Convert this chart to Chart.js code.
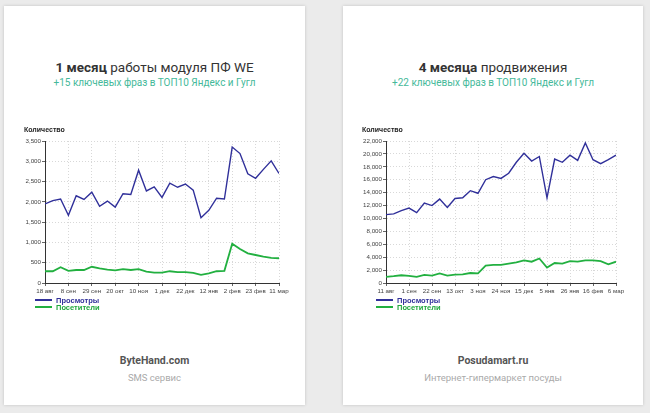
<!DOCTYPE html>
<html>
<head>
<meta charset="utf-8">
<script src="https://cdn.jsdelivr.net/npm/chart.js@4/dist/chart.umd.min.js"></script>
<style>
  body { margin: 0; background: #ebebeb; width: 650px; height: 413px; overflow: hidden; position: relative; font-family: Roboto, "Noto Sans", sans-serif; }
  .card { position: absolute; top: 6px; height: 399px; background: #fff; box-shadow: 0 0 3px rgba(0,0,0,0.18); }
  .t { position: absolute; left: 0; right: 0; text-align: center; white-space: nowrap; }
  .title { top: 52px; font-size: 13.5px; line-height: 18px; color: #333; }
  .title b { font-weight: 700; }
  .sub { top: 70px; font-size: 10px; line-height: 13px; color: #45b99a; }
  .name { top: 347px; font-size: 10.5px; line-height: 15px; color: #555; font-weight: 700; }
  .desc { top: 365px; font-size: 9.5px; line-height: 13px; color: #aaa; }
  canvas { position: absolute; }
  .leg { position: absolute; font-family: "Liberation Sans", Arial, sans-serif; font-size: 7.5px; font-weight: bold; line-height: 6.5px; }
  .leg div { position: relative; height: 6.5px; white-space: nowrap; }
  .leg span.ln { display: inline-block; width: 17px; height: 2px; vertical-align: middle; margin-right: 4px; position: relative; top: -1px; }
</style>
</head>
<body>
<div class="card" style="left:4px;width:301px;">
  <div class="t title"><b>1 месяц</b> работы модуля ПФ WE</div>
  <div class="t sub">+15 ключевых фраз в ТОП10 Яндекс и Гугл</div>
  <div class="t name">ByteHand.com</div>
  <div class="t desc">SMS сервис</div>
</div>
<div class="card" style="left:343px;width:300px;">
  <div class="t title"><b>4 месяца</b> продвижения</div>
  <div class="t sub">+22 ключевых фраз в ТОП10 Яндекс и Гугл</div>
  <div class="t name">Posudamart.ru</div>
  <div class="t desc">Интернет-гипермаркет посуды</div>
</div>

<canvas id="chart1" width="269" height="176" style="left:24px;top:124px;"></canvas>
<canvas id="chart2" width="268" height="176" style="left:362px;top:124px;"></canvas>

<div class="leg" style="left:35px;top:298px;">
  <div style="color:#30309a"><span class="ln" style="background:#30309a"></span>Просмотры</div>
  <div style="color:#1fa83c"><span class="ln" style="background:#22b040"></span>Посетители</div>
</div>
<div class="leg" style="left:376px;top:298px;">
  <div style="color:#30309a"><span class="ln" style="background:#30309a"></span>Просмотры</div>
  <div style="color:#1fa83c"><span class="ln" style="background:#22b040"></span>Посетители</div>
</div>

<script>
// Карточка 1: ByteHand.com (недельные точки, подпись каждые 3 недели)
const labels1 = ['18 авг', '8 сен', '29 сен', '20 окт', '10 ноя', '1 дек', '22 дек', '12 янв', '2 фев', '23 фев', '11 мар'];
const views1 = [1950, 2030, 2070, 1670, 2150, 2060, 2240, 1890, 2020, 1870, 2200, 2180, 2780, 2270, 2370, 2110,
                2460, 2360, 2440, 2290, 1610, 1790, 2090, 2070, 3350, 3190, 2690, 2580, 2800, 3010, 2700];
const visitors1 = [290, 290, 390, 300, 320, 320, 400, 360, 330, 310, 340, 320, 340, 280, 255, 255,
                   290, 270, 270, 250, 200, 240, 290, 300, 970, 840, 730, 690, 650, 620, 610];

// Карточка 2: Posudamart.ru
const labels2 = ['11 авг', '1 сен', '22 сен', '13 окт', '3 ноя', '24 ноя', '15 дек', '5 янв', '26 янв', '16 фев', '6 мар'];
const views2 = [10600, 10700, 11200, 11600, 10900, 12400, 12000, 13000, 11700, 13100, 13200, 14300, 13900, 16000, 16500, 16200,
                17000, 18700, 20100, 18900, 19600, 13200, 19200, 18700, 19800, 19000, 21700, 19100, 18500, 19100, 19800];
const visitors2 = [950, 1050, 1200, 1100, 950, 1250, 1150, 1500, 1150, 1300, 1350, 1550, 1500, 2700, 2800, 2800,
                   3000, 3200, 3500, 3300, 3800, 2400, 3100, 3000, 3400, 3300, 3500, 3500, 3400, 2900, 3300];

const tickFont = { family: 'Liberation Sans, Arial, sans-serif', size: 6.2 };

function makeChart(id, labels, views, visitors, yMax, yStep, yWidth) {
    const ctx = document.getElementById(id).getContext('2d');
    return new Chart(ctx, {
        type: 'line',
        data: {
            datasets: [{
                label: 'Просмотры',
                data: views.map((v, i) => ({ x: i, y: v })),
                borderColor: '#30309a',
                borderWidth: 1.4,
                pointRadius: 0,
                tension: 0
            }, {
                label: 'Посетители',
                data: visitors.map((v, i) => ({ x: i, y: v })),
                borderColor: '#22b040',
                borderWidth: 1.8,
                pointRadius: 0,
                tension: 0
            }]
        },
        options: {
            responsive: false,
            animation: false,
            layout: { padding: { left: 0, right: 14, top: 0, bottom: 0 } },
            plugins: {
                legend: { display: false },
                tooltip: { enabled: false },
                title: {
                    display: true,
                    text: 'Количество',
                    align: 'start',
                    color: '#222',
                    font: { family: 'Liberation Sans, Arial, sans-serif', size: 7, weight: 'bold' },
                    padding: { top: 2, bottom: 6.6 }
                }
            },
            scales: {
                x: {
                    type: 'linear',
                    min: 0,
                    max: views.length - 1,
                    afterFit: s => { s.height = 17; },
                    ticks: {
                        stepSize: 3,
                        autoSkip: false,
                        maxRotation: 0,
                        padding: 2,
                        color: '#444',
                        font: tickFont,
                        callback: v => labels[v / 3]
                    },
                    grid: { color: '#d8d8d8', tickColor: '#666', tickLength: 3 },
                    border: { color: '#333', width: 1, dash: [1, 2] }
                },
                y: {
                    min: 0,
                    max: yMax,
                    afterFit: s => { s.width = yWidth; },
                    ticks: {
                        stepSize: yStep,
                        padding: 1,
                        color: '#444',
                        font: tickFont,
                        callback: v => v.toLocaleString('en-US')
                    },
                    grid: { color: '#d8d8d8', tickColor: '#666', tickLength: 3 },
                    border: { color: '#333', width: 1, dash: [1, 2] }
                }
            }
        }
    });
}

makeChart('chart1', labels1, views1, visitors1, 3500, 500, 21);
makeChart('chart2', labels2, views2, visitors2, 22000, 2000, 24);
</script>
</body>
</html>
